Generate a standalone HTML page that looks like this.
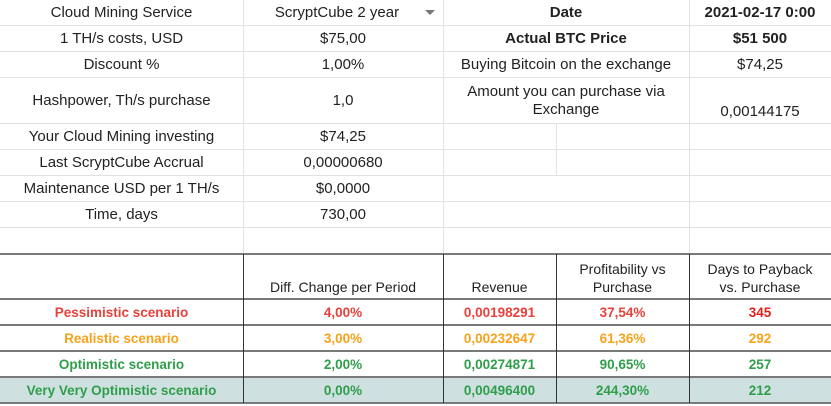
<!DOCTYPE html>
<html><head><meta charset="utf-8"><style>
html,body{margin:0;padding:0;background:#fff;}
#sheet{position:relative;width:831px;height:406px;overflow:hidden;font-family:"Liberation Sans",sans-serif;color:#222;}
.c{position:absolute;display:flex;align-items:center;justify-content:center;text-align:center;box-sizing:border-box;font-size:15px;line-height:18px;}
.hl{position:absolute;height:1px;background:#e2e2e2;}
.vl{position:absolute;width:1px;background:#e2e2e2;}
.dh{position:absolute;height:2px;background:#7a7a7a;}
.dv{position:absolute;width:1px;background:#333;}
.b{font-weight:bold;}
.s{font-size:14px;}
.red{color:#e8403a;font-weight:bold;font-size:13.5px;}
.org{color:#f7a21b;font-weight:bold;font-size:13.5px;}
.grn{color:#2f9e4a;font-weight:bold;font-size:13.5px;}
</style></head><body>
<div id="sheet">
<!-- top grid lines -->
<div class="hl" style="left:0;width:831px;top:25px"></div>
<div class="hl" style="left:0;width:831px;top:51px"></div>
<div class="hl" style="left:0;width:831px;top:77px"></div>
<div class="hl" style="left:0;width:831px;top:123px"></div>
<div class="hl" style="left:0;width:831px;top:149px"></div>
<div class="hl" style="left:0;width:831px;top:175px"></div>
<div class="hl" style="left:0;width:831px;top:201px"></div>
<div class="hl" style="left:0;width:831px;top:227px"></div>
<div class="vl" style="left:243px;top:0;height:253px"></div>
<div class="vl" style="left:443px;top:0;height:253px"></div>
<div class="vl" style="left:556px;top:124px;height:52px"></div>
<div class="vl" style="left:689px;top:0;height:253px"></div>

<div class="c" style="left:0;top:0;width:243px;height:26px">Cloud Mining Service</div>
<div class="c" style="left:243px;top:0;width:200px;height:26px;padding-right:12px">ScryptCube 2 year<span style="position:absolute;right:8px;top:10px;width:0;height:0;border-left:5px solid transparent;border-right:5px solid transparent;border-top:5px solid #777"></span></div>
<div class="c" style="left:0;top:26px;width:243px;height:26px">1 TH/s costs, USD</div>
<div class="c" style="left:243px;top:26px;width:200px;height:26px">$75,00</div>
<div class="c" style="left:0;top:52px;width:243px;height:26px">Discount %</div>
<div class="c" style="left:243px;top:52px;width:200px;height:26px">1,00%</div>
<div class="c" style="left:0;top:78px;width:243px;height:46px">Hashpower, Th/s purchase</div>
<div class="c" style="left:243px;top:78px;width:200px;height:46px">1,0</div>
<div class="c" style="left:0;top:124px;width:243px;height:26px">Your Cloud Mining investing</div>
<div class="c" style="left:243px;top:124px;width:200px;height:26px">$74,25</div>
<div class="c" style="left:0;top:150px;width:243px;height:26px">Last ScryptCube Accrual</div>
<div class="c" style="left:243px;top:150px;width:200px;height:26px">0,00000680</div>
<div class="c" style="left:0;top:176px;width:243px;height:26px">Maintenance USD per 1 TH/s</div>
<div class="c" style="left:243px;top:176px;width:200px;height:26px">$0,0000</div>
<div class="c" style="left:0;top:202px;width:243px;height:26px">Time, days</div>
<div class="c" style="left:243px;top:202px;width:200px;height:26px">730,00</div>

<div class="c b" style="left:443px;top:0;width:246px;height:26px">Date</div>
<div class="c b" style="left:689px;top:0;width:142px;height:26px">2021-02-17 0:00</div>
<div class="c b" style="left:443px;top:26px;width:246px;height:26px">Actual BTC Price</div>
<div class="c b" style="left:689px;top:26px;width:142px;height:26px">$51 500</div>
<div class="c" style="left:443px;top:52px;width:246px;height:26px">Buying Bitcoin on the exchange</div>
<div class="c" style="left:689px;top:52px;width:142px;height:26px">$74,25</div>
<div class="c" style="left:443px;top:78px;width:246px;height:46px">Amount you can purchase via<br>Exchange</div>
<div class="c" style="left:689px;top:78px;width:142px;height:46px;align-items:flex-end;padding-bottom:3px">0,00144175</div>

<!-- bottom section -->
<div class="dh" style="left:0;width:831px;top:253px"></div>
<div class="dh" style="left:0;width:831px;top:298px"></div>
<div class="dh" style="left:0;width:831px;top:324px"></div>
<div class="dh" style="left:0;width:831px;top:350px"></div>
<div style="position:absolute;left:0;top:377px;width:831px;height:25px;background:#cfe0e1"></div>
<div class="dh" style="left:0;width:831px;top:376px"></div>
<div class="dh" style="left:0;width:831px;top:402px"></div>
<div class="dv" style="left:243px;top:254px;height:149px"></div>
<div class="dv" style="left:443px;top:254px;height:149px"></div>
<div class="dv" style="left:556px;top:254px;height:149px"></div>
<div class="dv" style="left:689px;top:254px;height:149px"></div>

<div class="c s" style="left:243px;top:255px;width:200px;height:44px;align-items:flex-end;padding-bottom:3px">Diff. Change per Period</div>
<div class="c s" style="left:443px;top:255px;width:113px;height:44px;align-items:flex-end;padding-bottom:3px">Revenue</div>
<div class="c s" style="left:556px;top:255px;width:133px;height:44px;align-items:flex-end;padding-bottom:3px">Profitability vs<br>Purchase</div>
<div class="c s" style="left:689px;top:255px;width:142px;height:44px;align-items:flex-end;padding-bottom:3px">Days to Payback<br>vs. Purchase</div>

<div class="c red" style="left:0;top:300px;width:243px;height:25px">Pessimistic scenario</div>
<div class="c red" style="left:243px;top:300px;width:200px;height:25px">4,00%</div>
<div class="c red" style="left:443px;top:300px;width:113px;height:25px">0,00198291</div>
<div class="c red" style="left:556px;top:300px;width:133px;height:25px">37,54%</div>
<div class="c red" style="left:689px;top:300px;width:142px;height:25px;color:#e0201b">345</div>

<div class="c org" style="left:0;top:326px;width:243px;height:25px">Realistic scenario</div>
<div class="c org" style="left:243px;top:326px;width:200px;height:25px">3,00%</div>
<div class="c org" style="left:443px;top:326px;width:113px;height:25px">0,00232647</div>
<div class="c org" style="left:556px;top:326px;width:133px;height:25px">61,36%</div>
<div class="c org" style="left:689px;top:326px;width:142px;height:25px">292</div>

<div class="c grn" style="left:0;top:352px;width:243px;height:25px">Optimistic scenario</div>
<div class="c grn" style="left:243px;top:352px;width:200px;height:25px">2,00%</div>
<div class="c grn" style="left:443px;top:352px;width:113px;height:25px">0,00274871</div>
<div class="c grn" style="left:556px;top:352px;width:133px;height:25px">90,65%</div>
<div class="c grn" style="left:689px;top:352px;width:142px;height:25px">257</div>

<div class="c grn" style="left:0;top:378px;width:243px;height:25px">Very Very Optimistic scenario</div>
<div class="c grn" style="left:243px;top:378px;width:200px;height:25px">0,00%</div>
<div class="c grn" style="left:443px;top:378px;width:113px;height:25px">0,00496400</div>
<div class="c grn" style="left:556px;top:378px;width:133px;height:25px">244,30%</div>
<div class="c grn" style="left:689px;top:378px;width:142px;height:25px">212</div>
</div>
</body></html>
